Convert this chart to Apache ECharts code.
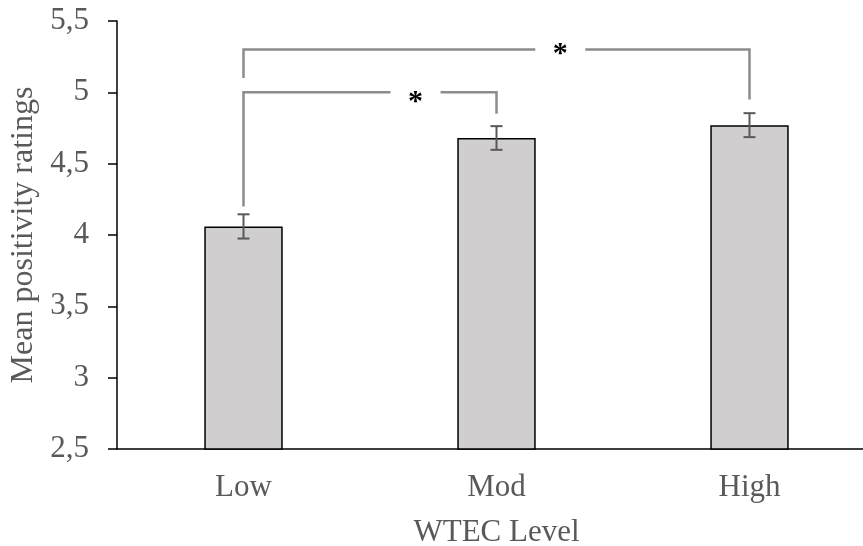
<!DOCTYPE html>
<html>
<head>
    <meta charset="UTF-8">
    <title></title>
    <script src="https://cdn.jsdelivr.net/npm/echarts@6/dist/echarts.min.js"></script>
    <style>
        html, body { margin: 0; padding: 0; background: #fff; }
        #chart { width: 863px; height: 546px; }
    </style>
</head>
<body>
<div id="chart"></div>
<script>
    // data
    var levels = ['Low', 'Mod', 'High'];
    var means = [4.06, 4.68, 4.77];
    var errs = [0.085, 0.083, 0.084];
    var yTicks = [2.5, 3, 3.5, 4, 4.5, 5, 5.5];

    // significance brackets: from / to category, bar height, end of left and right legs, star level
    var brFrom = [0, 0];
    var brTo = [1, 2];
    var brLevel = [5.0, 5.3];
    var brLeftEnd = [4.2, 5.1];
    var brRightEnd = [4.85, 4.95];
    var brStarLevel = [4.93, 5.27];
    var brStarPos = [0.68, 0.626];

    var font = '"Liberation Serif", "Times New Roman", serif';
    var grey = '#595959';

    var chart = echarts.init(document.getElementById('chart'));

    var errData = levels.map(function (c, i) { return [i, means[i] - errs[i], means[i] + errs[i]]; });
    var brData = brFrom.map(function (f, i) {
        return [f, brTo[i], brLevel[i], brLeftEnd[i], brRightEnd[i], brStarLevel[i], brStarPos[i]];
    });

    chart.setOption({
        animation: false,
        backgroundColor: '#fff',
        grid: { left: 117, right: -13, top: 21, bottom: 97, outerBoundsMode: 'none', containLabel: false },
        xAxis: {
            type: 'category',
            data: levels,
            name: 'WTEC Level',
            nameLocation: 'middle',
            nameGap: 68,
            nameTextStyle: { fontFamily: font, fontSize: 31, color: grey },
            axisLine: { lineStyle: { color: '#000', width: 1.5 } },
            axisTick: { show: false },
            axisLabel: { fontFamily: font, fontSize: 31, color: grey, margin: 23 }
        },
        yAxis: {
            type: 'value',
            min: 2.5,
            max: 5.5,
            interval: 0.5,
            name: 'Mean positivity ratings',
            nameLocation: 'middle',
            nameGap: 76,
            nameTextStyle: { fontFamily: font, fontSize: 32, color: grey },
            axisLine: { show: true, lineStyle: { color: '#000', width: 1.5 } },
            axisTick: { show: true, length: 9, lineStyle: { color: '#000', width: 1.5 } },
            splitLine: { show: false },
            axisLabel: {
                fontFamily: font, fontSize: 31, color: grey, margin: 28,
                formatter: function (v) {
                    return yTicks.indexOf(v) < 0 ? '' : String(v).replace('.', ',');
                }
            }
        },
        series: [
            {
                type: 'bar',
                data: means,
                barWidth: '31%',
                itemStyle: { color: '#d0cece', borderColor: '#000', borderWidth: 1.5 }
            },
            {
                type: 'custom',
                data: errData,
                z: 5,
                renderItem: function (params, api) {
                    var lo = api.coord([api.value(0), api.value(1)]);
                    var hi = api.coord([api.value(0), api.value(2)]);
                    var w = 6;
                    var st = { stroke: grey, lineWidth: 2 };
                    return {
                        type: 'group',
                        children: [
                            { type: 'line', shape: { x1: lo[0], y1: lo[1], x2: hi[0], y2: hi[1] }, style: st },
                            { type: 'line', shape: { x1: lo[0] - w, y1: lo[1], x2: lo[0] + w, y2: lo[1] }, style: st },
                            { type: 'line', shape: { x1: hi[0] - w, y1: hi[1], x2: hi[0] + w, y2: hi[1] }, style: st }
                        ]
                    };
                }
            },
            {
                type: 'custom',
                data: brData,
                z: 6,
                renderItem: function (params, api) {
                    var a = api.coord([api.value(0), api.value(2)]);
                    var b = api.coord([api.value(1), api.value(2)]);
                    var aEnd = api.coord([api.value(0), api.value(3)]);
                    var bEnd = api.coord([api.value(1), api.value(4)]);
                    var sy = api.coord([api.value(0), api.value(5)])[1];
                    var sx = a[0] + api.value(6) * (b[0] - a[0]);
                    var gap = 25;
                    var st = { stroke: '#8c8c8c', lineWidth: 2.5, fill: 'none' };
                    return {
                        type: 'group',
                        children: [
                            { type: 'polyline', shape: { points: [[aEnd[0], aEnd[1]], a, [sx - gap, a[1]]] }, style: st },
                            { type: 'polyline', shape: { points: [[sx + gap, b[1]], b, [bEnd[0], bEnd[1]]] }, style: st },
                            {
                                type: 'text',
                                style: {
                                    x: sx, y: sy, text: '*', fill: '#000',
                                    font: 'bold 30px ' + font,
                                    align: 'center', verticalAlign: 'middle'
                                }
                            }
                        ]
                    };
                }
            }
        ]
    });
</script>
</body>
</html>
